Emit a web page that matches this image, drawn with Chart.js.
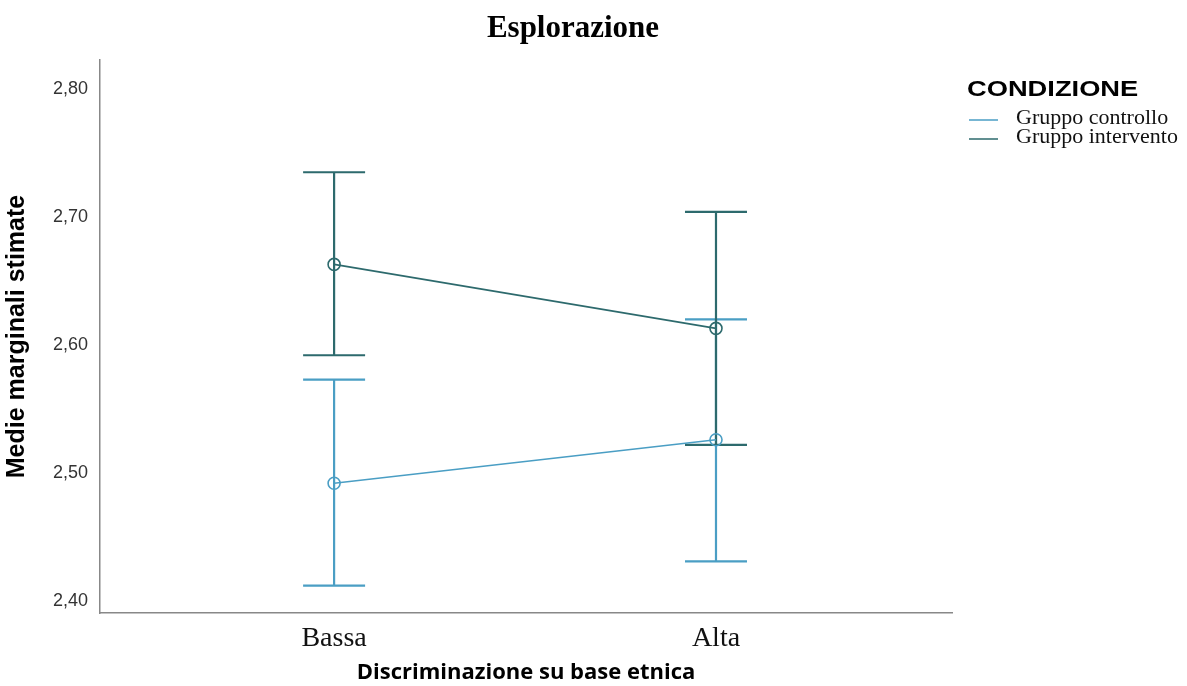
<!DOCTYPE html>
<html>
<head>
<meta charset="utf-8">
<script src="https://cdn.jsdelivr.net/npm/chart.js@4.4.1/dist/chart.umd.min.js"></script>
<style>
  html, body { margin: 0; padding: 0; background: #fff; }
  #wrap { width: 1187px; height: 686px; }
</style>
</head>
<body>
<div id="wrap"><canvas id="chart" width="1187" height="686"></canvas></div>
<script>
// data
const categories = ["Bassa", "Alta"];
const seriesNames = ["Gruppo controllo", "Gruppo intervento"];
const controlloMean = [2.492, 2.526];
const controlloLow = [2.412, 2.431];
const controlloHigh = [2.573, 2.620];
const interventoMean = [2.663, 2.613];
const interventoLow = [2.592, 2.522];
const interventoHigh = [2.735, 2.704];
const yTicks = [2.40, 2.50, 2.60, 2.70, 2.80];

const colControllo = "#4a9ec4";
const colIntervento = "#2d6a6d";

const series = [
  { name: seriesNames[0], mean: controlloMean, low: controlloLow, high: controlloHigh, color: colControllo },
  { name: seriesNames[1], mean: interventoMean, low: interventoLow, high: interventoHigh, color: colIntervento },
];

// error bars drawn through the chart scales
const errorBars = {
  id: "errorBars",
  beforeDatasetsDraw(chart) {
    const { ctx, scales: { x, y } } = chart;
    ctx.save();
    series.forEach(s => {
      ctx.strokeStyle = s.color;
      ctx.lineWidth = 2.2;
      s.mean.forEach((m, i) => {
        const px = x.getPixelForValue(i + 1);
        const top = y.getPixelForValue(s.high[i]);
        const bot = y.getPixelForValue(s.low[i]);
        ctx.beginPath();
        ctx.moveTo(px, top); ctx.lineTo(px, bot);
        ctx.moveTo(px - 31, top); ctx.lineTo(px + 31, top);
        ctx.moveTo(px - 31, bot); ctx.lineTo(px + 31, bot);
        ctx.stroke();
      });
    });
    ctx.restore();
  }
};

// title and legend (the source image is a bit stretched sideways)
function stretchedText(ctx, text, x, y, sx) {
  ctx.save();
  ctx.translate(x, y);
  ctx.scale(sx, 1);
  ctx.fillText(text, 0, 0);
  ctx.restore();
}

const decorations = {
  id: "decorations",
  afterDraw(chart) {
    const ctx = chart.ctx;
    ctx.save();
    ctx.fillStyle = "#000";
    ctx.textAlign = "center";
    ctx.textBaseline = "middle";
    ctx.font = "bold 31px 'Liberation Serif', 'Times New Roman', serif";
    ctx.fillText("Esplorazione", 573, 29);

    ctx.textAlign = "left";
    ctx.font = "bold 22px 'Liberation Sans', Arial, sans-serif";
    stretchedText(ctx, "CONDIZIONE", 967, 90, 1.24);
    ctx.font = "20px 'Liberation Serif', 'Times New Roman', serif";
    series.forEach((s, i) => {
      const yy = 120 + i * 19;
      ctx.strokeStyle = s.color;
      ctx.lineWidth = 1.5;
      ctx.beginPath();
      ctx.moveTo(969, yy); ctx.lineTo(998, yy);
      ctx.stroke();
      ctx.fillStyle = "#111";
      stretchedText(ctx, s.name, 1016, yy - 1, 1.1);
    });
    ctx.restore();
  }
};

new Chart(document.getElementById("chart"), {
  type: "line",
  data: {
    datasets: series.map(s => ({
      label: s.name,
      data: s.mean.map((v, i) => ({ x: i + 1, y: v })),
      borderColor: s.color,
      borderWidth: 1.6,
      pointRadius: 6,
      pointBorderWidth: 1.6,
      pointBackgroundColor: "rgba(0,0,0,0)",
      pointBorderColor: s.color,
      fill: false,
      tension: 0,
    })),
  },
  options: {
    responsive: false,
    animation: false,
    layout: { padding: { top: 60, right: 235, left: 0, bottom: 0 } },
    plugins: {
      legend: { display: false },
      tooltip: { enabled: false },
    },
    scales: {
      x: {
        type: "linear",
        min: 0.387,
        max: 2.618,
        afterBuildTicks: scale => { scale.ticks = categories.map((c, i) => ({ value: i + 1 })); },
        afterFit: scale => { scale.height = 73; },
        ticks: {
          callback: v => categories[v - 1],
          font: { family: "'Liberation Serif', 'Times New Roman', serif", size: 28 },
          color: "#111",
          padding: 9,
          maxRotation: 0,
        },
        grid: { display: false, drawTicks: false },
        border: { color: "#888", width: 1.5 },
        title: {
          display: true,
          text: "Discriminazione su base etnica",
          font: { family: "'Open Sans', sans-serif", size: 22, weight: "bold" },
          color: "#000",
          padding: { top: 0, bottom: 0 },
        },
      },
      y: {
        min: 2.3906,
        max: 2.8227,
        afterBuildTicks: scale => { scale.ticks = yTicks.map(v => ({ value: v })); },
        afterFit: scale => { scale.width = 100; },
        ticks: {
          callback: v => v.toFixed(2).replace(".", ","),
          font: { family: "'Liberation Sans', Arial, sans-serif", size: 18 },
          color: "#333",
          padding: 12,
        },
        grid: { display: false, drawTicks: false },
        border: { color: "#888", width: 1.5 },
        title: {
          display: true,
          text: "Medie marginali stimate",
          font: { family: "'Liberation Sans', Arial, sans-serif", size: 25, weight: "bold" },
          color: "#000",
          padding: { top: 2, bottom: 4 },
        },
      },
    },
  },
  plugins: [errorBars, decorations],
});
</script>
</body>
</html>
